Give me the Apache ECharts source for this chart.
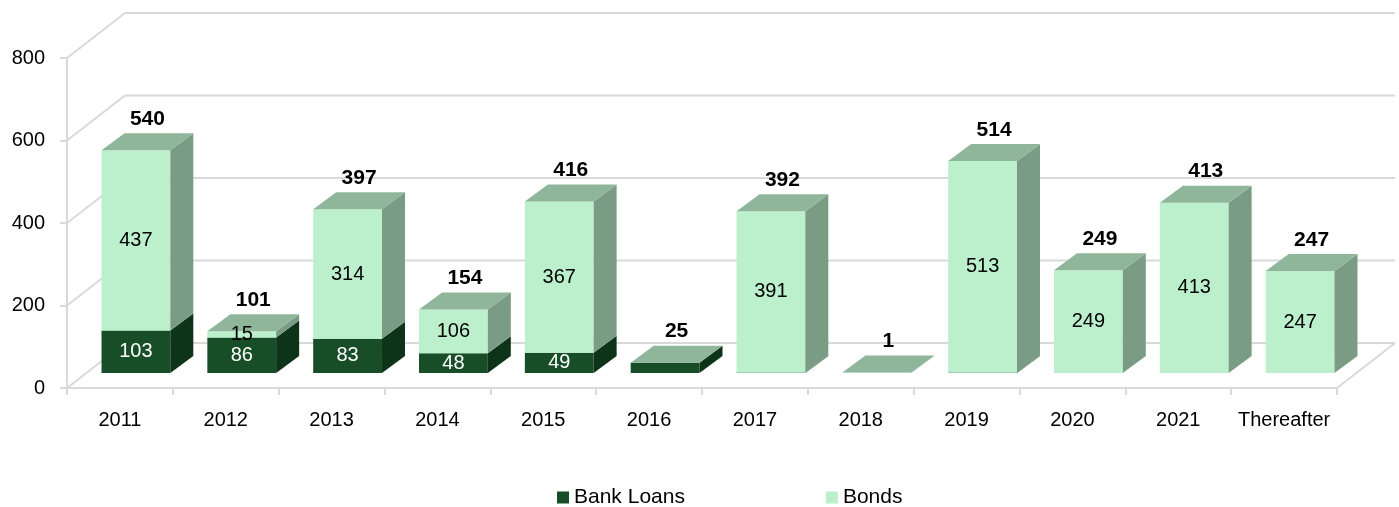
<!DOCTYPE html>
<html>
<head>
<meta charset="utf-8">
<script src="https://cdn.jsdelivr.net/npm/echarts@6/dist/echarts.min.js"></script>
<style>
  html, body { margin: 0; padding: 0; background: #fff; }
  #chart1 { width: 1399px; height: 507px; }
</style>
</head>
<body>
<div id="chart1"></div>
<script>
var categories = ['2011', '2012', '2013', '2014', '2015', '2016', '2017', '2018', '2019', '2020', '2021', 'Thereafter'];
var bankLoans = [103, 86, 83, 48, 49, 25, 1, 0, 1, 0, 0, 0];
var bonds = [437, 15, 314, 106, 367, 0, 391, 1, 513, 249, 413, 247];
var yTicks = [0, 200, 400, 600, 800];

// 3d look: wall depth, bar plane offset, bar depth
var WALL = [58, -45];
var PLANE = [16, -15];
var DEPTH = [23, -17];
var GRID_COLOR = '#d9d9d9';
var TOP_COLOR = '#8fb59b';

var totals = bankLoans.map(function (v, i) { return v + bonds[i]; });

function segData(vals, bases, isTopFn) {
    return vals.map(function (v, i) {
        return [i, bases ? bases[i] : 0, v, isTopFn(i) ? 1 : 0];
    });
}

function barRenderer(front, side, labelColor, minLabel) {
    return function (params, api) {
        var idx = api.value(0), base = api.value(1), val = api.value(2), isTop = api.value(3);
        if (!(val > 0)) return null;
        var p0 = api.coord([idx, base]);
        var p1 = api.coord([idx, base + val]);
        var w = api.size([1, 0])[0] * 0.65;
        var x0 = p0[0] - w / 2 + PLANE[0], x1 = x0 + w;
        var yb = p0[1] + PLANE[1], yt = p1[1] + PLANE[1];
        var kids = [
            { type: 'rect', shape: { x: x0, y: yt, width: w, height: yb - yt }, style: { fill: front } },
            { type: 'polygon', shape: { points: [[x1, yb], [x1 + DEPTH[0], yb + DEPTH[1]], [x1 + DEPTH[0], yt + DEPTH[1]], [x1, yt]] }, style: { fill: side } }
        ];
        if (isTop) {
            kids.push({ type: 'polygon', shape: { points: [[x0, yt], [x1, yt], [x1 + DEPTH[0], yt + DEPTH[1]], [x0 + DEPTH[0], yt + DEPTH[1]]] }, style: { fill: TOP_COLOR } });
        }
        if (val >= minLabel) {
            kids.push({ type: 'text', style: { x: (x0 + x1) / 2, y: (yt + yb) / 2, text: String(val), fill: labelColor, font: '20px "Liberation Sans", Arial, sans-serif', align: 'center', verticalAlign: 'middle' } });
        }
        return { type: 'group', children: kids };
    };
}

var myChart = echarts.init(document.getElementById('chart1'));

option = {
    animation: false,
    textStyle: { fontFamily: '"Liberation Sans", Arial, sans-serif' },
    legend: {
        data: ['Bank Loans', 'Bonds'],
        left: 557,
        top: 487,
        padding: 0,
        icon: 'rect',
        itemWidth: 12,
        itemHeight: 12,
        itemGap: 141,
        textStyle: { fontSize: 21, color: '#000' }
    },
    grid: {
        left: 67,
        right: 62,
        top: 58,
        bottom: 119
    },
    xAxis: {
        type: 'category',
        data: categories,
        axisLine: { lineStyle: { color: GRID_COLOR, width: 2 } },
        axisTick: { show: true, interval: 0, length: 7, lineStyle: { color: GRID_COLOR, width: 2 } },
        axisLabel: { interval: 0, fontSize: 20, color: '#000', margin: 22 }
    },
    yAxis: {
        type: 'value',
        min: 0,
        max: 800,
        interval: 200,
        axisLine: { show: true, lineStyle: { color: GRID_COLOR, width: 2 } },
        axisTick: { show: true, length: 7, lineStyle: { color: GRID_COLOR, width: 2 } },
        axisLabel: { fontSize: 20, color: '#000', margin: 22 },
        splitLine: { show: false }
    },
    series: [
        {
            name: 'wall',
            type: 'custom',
            silent: true,
            z: 1,
            renderItem: function (params, api) {
                var cs = params.coordSys;
                var v = api.value(1);
                var y = api.coord([0, v])[1];
                var xl = cs.x, xr = cs.x + cs.width;
                var ls = { stroke: GRID_COLOR, lineWidth: 2 };
                var kids = [
                    { type: 'line', shape: { x1: xl, y1: y, x2: xl + WALL[0], y2: y + WALL[1] }, style: ls },
                    { type: 'line', shape: { x1: xl + WALL[0], y1: y + WALL[1], x2: xr + WALL[0], y2: y + WALL[1] }, style: ls }
                ];
                if (v === 0) {
                    kids.push({ type: 'line', shape: { x1: xr, y1: y, x2: xr + WALL[0], y2: y + WALL[1] }, style: ls });
                }
                return { type: 'group', children: kids };
            },
            data: yTicks.map(function (v) { return [0, v]; })
        },
        {
            name: 'Bank Loans',
            type: 'custom',
            z: 2,
            itemStyle: { color: '#174d27' },
            renderItem: barRenderer('#174d27', '#0d3318', '#fff', 40),
            data: segData(bankLoans, null, function (i) { return bonds[i] === 0; })
        },
        {
            name: 'Bonds',
            type: 'custom',
            z: 3,
            itemStyle: { color: '#bcefcc' },
            renderItem: barRenderer('#bcefcc', '#7a9c84', '#000', 15),
            data: segData(bonds, bankLoans, function (i) { return true; })
        },
        {
            name: 'total',
            type: 'custom',
            z: 4,
            silent: true,
            renderItem: function (params, api) {
                var idx = api.value(0), v = api.value(1);
                var p = api.coord([idx, v]);
                var cx = p[0] + PLANE[0] + DEPTH[0] / 2;
                var cy = p[1] + PLANE[1] + DEPTH[1] - 14;
                return { type: 'text', style: { x: cx, y: cy, text: String(v), fill: '#000', font: 'bold 21px "Liberation Sans", Arial, sans-serif', align: 'center', verticalAlign: 'middle' } };
            },
            data: totals.map(function (v, i) { return [i, v]; })
        }
    ]
};
myChart.setOption(option);
window.onresize = myChart.resize;
</script>
</body>
</html>
